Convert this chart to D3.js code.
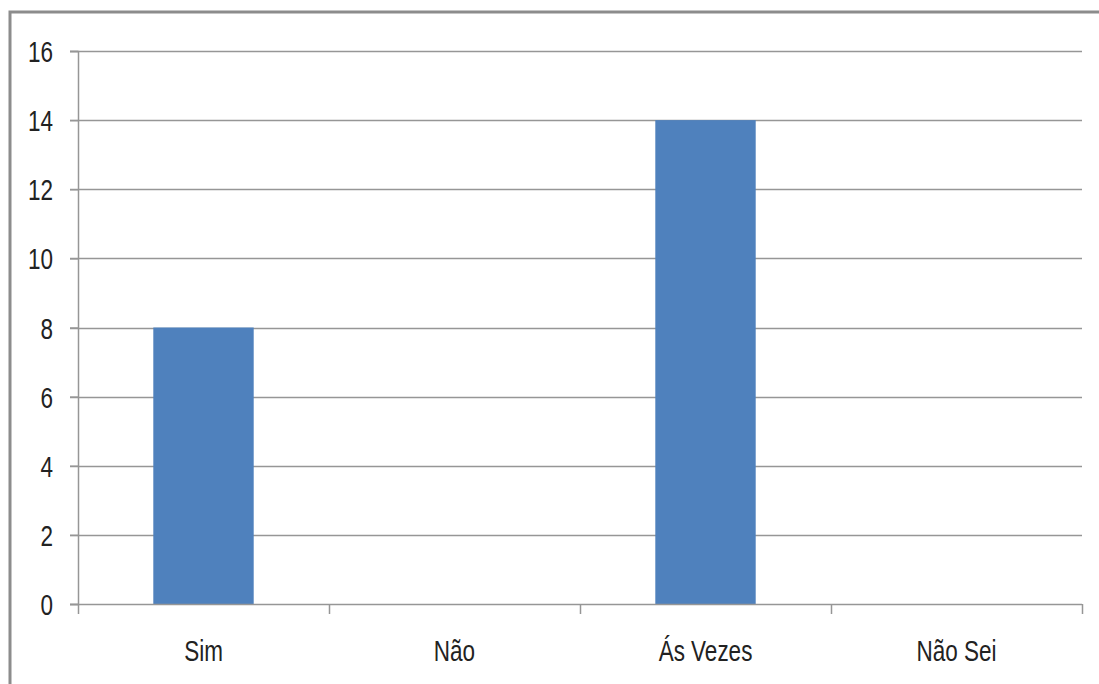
<!DOCTYPE html>
<html>
<head>
<meta charset="utf-8">
<script src="https://cdn.jsdelivr.net/npm/d3@7"></script>
<style>
  html, body { margin: 0; padding: 0; background: #fff; }
  svg { display: block; }
  text { font-family: "Liberation Sans", Arial, sans-serif; fill: #222; }
</style>
</head>
<body>
<svg id="chart" width="1099" height="684"></svg>
<script>
const categories = ["Sim", "Não", "Ás Vezes", "Não Sei"];
const values = [8, 0, 14, 0];
const yTicks = [0, 2, 4, 6, 8, 10, 12, 14, 16];

const W = 1099, H = 684;
const margin = { left: 78, right: 17, top: 51, bottom: 80 };
const FS = 22.5, SY = 1.3;
const svg = d3.select("#chart");

// outer chart border
svg.append("path")
  .attr("d", `M10,${H + 5} L10,12 L${W + 5},12`)
  .attr("fill", "none")
  .attr("stroke", "#8c8c8c")
  .attr("stroke-width", 3);

const x = d3.scaleBand().domain(categories).range([margin.left, W - margin.right]).paddingInner(0).paddingOuter(0);
const y = d3.scaleLinear().domain([0, 16]).range([604, margin.top]);

// gridlines
svg.append("g").selectAll("line").data(yTicks.filter(t => t > 0)).join("line")
  .attr("x1", margin.left - 8).attr("x2", W - margin.right)
  .attr("y1", d => Math.round(y(d)) + 0.5).attr("y2", d => Math.round(y(d)) + 0.5)
  .attr("stroke", "#969696").attr("stroke-width", 1.5);

// bars
const bw = x.bandwidth() * 0.4;
svg.append("g").selectAll("rect").data(values).join("rect")
  .attr("x", (d, i) => x(categories[i]) + (x.bandwidth() - bw) / 2)
  .attr("width", bw)
  .attr("y", d => y(d))
  .attr("height", d => y(0) - y(d))
  .attr("fill", "#4f81bd");

// y axis
const yAxis = d3.axisLeft(y).tickValues(yTicks).tickSize(8).tickPadding(17);
const gy = svg.append("g").attr("transform", `translate(${margin.left},0)`).call(yAxis);
gy.select(".domain").attr("stroke", "#969696").attr("stroke-width", 1.5);
gy.selectAll(".tick line").attr("stroke", "#969696").attr("stroke-width", 1.5);
gy.selectAll(".tick text").attr("font-size", FS).attr("fill", "#222")
  .style("font-family", '"Liberation Sans", Arial, sans-serif')
  .attr("dy", "0.36em")
  .attr("transform", `scale(1,${SY})`);

// x axis
const xAxisG = svg.append("g").attr("transform", `translate(0,${y(0)})`);
xAxisG.append("line").attr("x1", margin.left - 8).attr("x2", W - margin.right)
  .attr("y1", 0.5).attr("y2", 0.5).attr("stroke", "#969696").attr("stroke-width", 1.5);
const bounds = categories.map(c => x(c)).concat([x(categories[categories.length - 1]) + x.bandwidth()]);
xAxisG.selectAll("line.tk").data(bounds).join("line").attr("class", "tk")
  .attr("x1", d => Math.round(d) + 0.5).attr("x2", d => Math.round(d) + 0.5)
  .attr("y1", 0).attr("y2", 10)
  .attr("stroke", "#969696").attr("stroke-width", 1.5);
xAxisG.selectAll("text").data(categories).join("text")
  .attr("transform", d => `translate(${x(d) + x.bandwidth() / 2},57) scale(1,${SY})`)
  .attr("text-anchor", "middle")
  .attr("font-size", FS)
  .text(d => d);
</script>
</body>
</html>
